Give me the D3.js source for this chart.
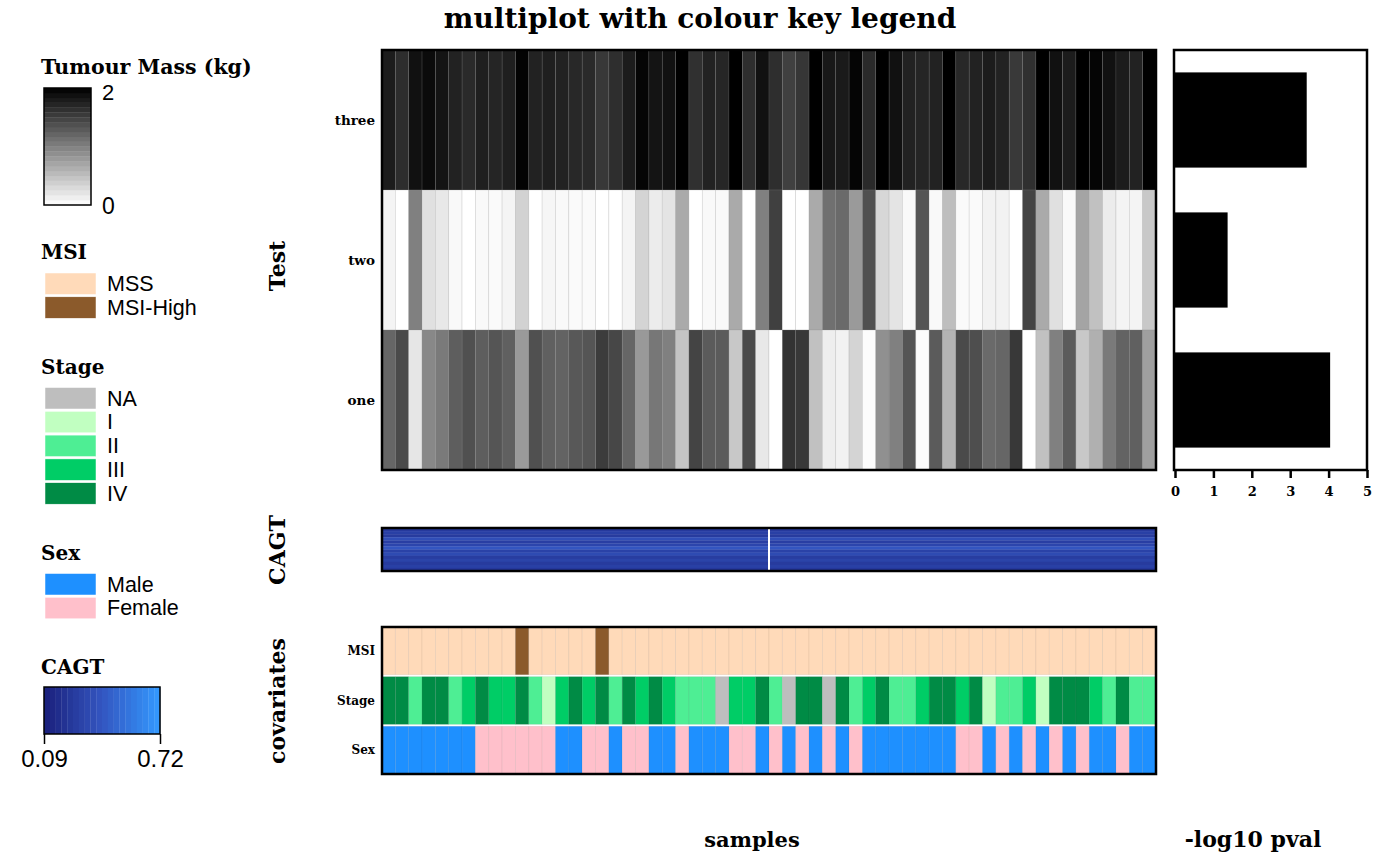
<!DOCTYPE html>
<html><head><meta charset="utf-8">
<script src="https://cdn.jsdelivr.net/npm/d3@7"></script>
<style>
body{margin:0;background:#fff;}
svg{display:block;}
.ser{font-family:"DejaVu Serif",serif;font-weight:bold;}
.sans{font-family:"Liberation Sans",Arial,sans-serif;}
</style></head>
<body>
<svg id="chart" width="1400" height="866"></svg>
<script>
// ---------------- DATA ----------------
const testRows = ["three", "two", "one"];
const massThree = [1.78,1.65,1.87,1.91,1.84,1.73,1.67,1.76,1.71,1.76,1.98,1.73,1.76,1.73,1.69,1.67,1.56,1.64,1.78,1.96,
  1.84,1.87,2.00,1.62,1.73,1.70,2.00,1.64,1.87,1.64,1.50,1.58,2.00,1.81,1.80,1.96,1.67,2.00,1.87,1.73,
  1.71,1.73,2.00,1.69,1.73,1.78,1.73,1.55,1.62,2.00,1.87,1.78,2.00,1.96,1.87,1.78,1.73,2.00];
const massTwo = [0.09,0.00,1.00,0.24,0.18,0.05,0.00,0.05,0.04,0.09,0.35,0.00,0.07,0.05,0.04,0.04,0.00,0.00,0.09,0.34,
  0.15,0.21,0.67,0.00,0.05,0.05,0.67,0.00,1.00,1.50,0.00,0.00,0.67,1.12,1.17,0.79,1.37,0.31,0.21,0.05,
  1.33,0.05,0.51,0.04,0.04,0.10,0.10,0.00,1.47,0.67,0.24,0.05,0.71,0.49,0.15,0.09,0.09,0.43];
const massOne = [1.20,1.42,0.20,0.93,1.04,1.26,1.37,1.26,1.33,1.25,0.79,1.37,1.25,1.22,1.31,1.33,1.53,1.44,1.20,0.80,
  1.07,1.00,0.46,1.47,1.29,1.29,0.43,1.42,0.18,0.00,1.60,1.56,0.49,0.13,0.10,0.34,0.02,0.87,1.00,1.33,
  0.02,1.29,0.59,1.42,1.39,1.17,1.20,1.56,0.00,0.49,1.00,1.29,0.43,0.62,1.04,1.22,1.25,0.75];
const pvalNegLog10 = [3.43, 1.37, 4.04]; // three, two, one
const pvalTicks = [0, 1, 2, 3, 4, 5];

const msiLevels = ["MSS", "MSI-High"];
const msiColors = ["#ffdab9", "#8b5a2b"];
const msi = ["MSS","MSS","MSS","MSS","MSS","MSS","MSS","MSS","MSS","MSS","MSI-High","MSS","MSS","MSS","MSS","MSS","MSI-High","MSS","MSS","MSS",
  "MSS","MSS","MSS","MSS","MSS","MSS","MSS","MSS","MSS","MSS","MSS","MSS","MSS","MSS","MSS","MSS","MSS","MSS","MSS","MSS",
  "MSS","MSS","MSS","MSS","MSS","MSS","MSS","MSS","MSS","MSS","MSS","MSS","MSS","MSS","MSS","MSS","MSS","MSS"];

const stageLevels = ["NA", "I", "II", "III", "IV"];
const stageColors = ["#bebebe", "#c1ffc1", "#4eee94", "#00cd66", "#008b45"];
const stage = ["IV","IV","II","IV","IV","II","III","IV","III","III","IV","II","I","III","IV","III","IV","II","IV","III",
  "IV","III","II","II","II","NA","III","III","IV","II","NA","IV","IV","NA","IV","II","III","IV","II","II",
  "III","IV","IV","III","IV","I","II","II","III","I","IV","IV","IV","III","II","IV","II","II"];

const sexLevels = ["Male", "Female"];
const sexColors = ["#1e90ff", "#ffc0cb"];
const sex = ["Male","Male","Male","Male","Male","Male","Male","Female","Female","Female","Female","Female","Female","Male","Male","Female","Female","Male","Female","Female",
  "Male","Male","Female","Male","Male","Male","Female","Female","Male","Female","Male","Female","Male","Female","Male","Female","Male","Male","Male","Male",
  "Male","Male","Male","Female","Female","Male","Female","Male","Female","Male","Female","Male","Female","Male","Male","Female","Male","Male"];

const covariateRows = ["MSI", "Stage", "Sex"];
const cagtRange = [0.09, 0.72];
const cagtStripes = [0.24,0.28,0.25,0.36,0.27,0.31,0.40,0.29,0.34,0.26,0.30,0.25,0.28,0.23];
const cagtMissingAfter = 29; // sample boundary with missing CAGT
const massRange = [0, 2];

const samples = massOne.map((d, i) => i);

// ---------------- DRAW ----------------
const svg = d3.select("#chart");

const x = d3.scaleBand().domain(samples).range([382, 1156]);
const massColor = d3.scaleLinear().domain(massRange).range(["#ffffff", "#000000"]);
const cagtColor = d3.scaleLinear().domain([0.09, 0.40, 0.72]).range(["#1a1f7a", "#3355c0", "#3399ff"]);
const msiScale = d3.scaleOrdinal(msiLevels, msiColors);
const stageScale = d3.scaleOrdinal(stageLevels, stageColors);
const sexScale = d3.scaleOrdinal(sexLevels, sexColors);

// title
svg.append("text").attr("class", "ser").attr("x", 700).attr("y", 28)
  .attr("text-anchor", "middle").attr("font-size", 28).text("multiplot with colour key legend");

// main heatmap
const yHeat = d3.scaleBand().domain(testRows).range([50, 470]);
const massByRow = { three: massThree, two: massTwo, one: massOne };
const heatG = svg.append("g");
testRows.forEach(r => {
  heatG.selectAll(null).data(massByRow[r]).enter().append("rect")
    .attr("x", (d, i) => x(i)).attr("y", yHeat(r))
    .attr("width", x.bandwidth()).attr("height", yHeat.bandwidth())
    .attr("fill", d => massColor(d))
    .attr("stroke", "#888").attr("stroke-opacity", 0.3).attr("stroke-width", 0.6);
});
svg.append("rect").attr("x", 382).attr("y", 50).attr("width", 774).attr("height", 420)
  .attr("fill", "none").attr("stroke", "#000").attr("stroke-width", 2.5);
testRows.forEach(r => {
  svg.append("text").attr("class", "ser").attr("x", 375).attr("y", yHeat(r) + yHeat.bandwidth() / 2 + 5)
    .attr("text-anchor", "end").attr("font-size", 13.5).text(r);
});

// rotated labels
function vlabel(txt, cy) {
  svg.append("text").attr("class", "ser").attr("transform", `translate(285,${cy}) rotate(-90)`)
    .attr("text-anchor", "middle").attr("font-size", 22).text(txt);
}
vlabel("Test", 266);
vlabel("CAGT", 550);
vlabel("covariates", 701);

// bar panel
const xb = d3.scaleLinear().domain([0, 5]).range([1175, 1367]);
const yb = d3.scaleBand().domain(testRows).range([50, 470]).paddingInner(0.32).paddingOuter(0.16);
svg.selectAll(".bar").data(testRows).enter().append("rect")
  .attr("x", xb(0)).attr("y", d => yb(d))
  .attr("width", (d, i) => xb(pvalNegLog10[i]) - xb(0)).attr("height", yb.bandwidth())
  .attr("fill", "#000");
svg.append("rect").attr("x", 1174).attr("y", 50).attr("width", 193).attr("height", 420)
  .attr("fill", "none").attr("stroke", "#000").attr("stroke-width", 2.5);
const bAxis = svg.append("g").attr("transform", "translate(0,470)")
  .call(d3.axisBottom(xb).tickValues(pvalTicks).tickSize(8).tickPadding(9).tickFormat(d3.format("d")));
bAxis.select(".domain").remove();
bAxis.selectAll("line").attr("stroke-width", 2.5);
bAxis.selectAll("text").attr("class", "ser").attr("font-size", 13).attr("fill", "#000");

// CAGT strip
const yc = d3.scaleBand().domain(d3.range(cagtStripes.length)).range([528, 571]);
svg.selectAll(".cagt").data(cagtStripes).enter().append("rect")
  .attr("x", 382).attr("y", (d, i) => yc(i)).attr("width", 774).attr("height", yc.bandwidth() + 0.3)
  .attr("fill", d => cagtColor(d));
svg.append("line").attr("x1", x(cagtMissingAfter)).attr("x2", x(cagtMissingAfter))
  .attr("y1", 529).attr("y2", 570).attr("stroke", "#fff").attr("stroke-width", 2);
svg.append("rect").attr("x", 382).attr("y", 528).attr("width", 774).attr("height", 43)
  .attr("fill", "none").attr("stroke", "#000").attr("stroke-width", 2.5);

// covariates
const ycov = d3.scaleBand().domain(covariateRows).range([627, 774]).paddingInner(0.04);
const covData = { MSI: [msi, msiScale], Stage: [stage, stageScale], Sex: [sex, sexScale] };
covariateRows.forEach(r => {
  const [vals, sc] = covData[r];
  svg.selectAll(null).data(vals).enter().append("rect")
    .attr("x", (d, i) => x(i)).attr("y", ycov(r))
    .attr("width", x.bandwidth()).attr("height", ycov.bandwidth())
    .attr("fill", d => sc(d))
    .attr("stroke", "#000").attr("stroke-opacity", 0.07).attr("stroke-width", 0.8);
  svg.append("text").attr("class", "ser").attr("x", 375).attr("y", ycov(r) + ycov.bandwidth() / 2 + 4)
    .attr("text-anchor", "end").attr("font-size", 12).text(r);
});
svg.append("rect").attr("x", 382).attr("y", 627).attr("width", 774).attr("height", 147)
  .attr("fill", "none").attr("stroke", "#000").attr("stroke-width", 2.5);

// bottom labels
svg.append("text").attr("class", "ser").attr("x", 752).attr("y", 847).attr("text-anchor", "middle")
  .attr("font-size", 21).text("samples");
svg.append("text").attr("class", "ser").attr("x", 1253).attr("y", 847).attr("text-anchor", "middle")
  .attr("font-size", 22).text("-log10 pval");

// ---------- legends ----------
const lg = svg.append("g");
// Tumour mass colour key
lg.append("text").attr("class", "ser").attr("x", 41).attr("y", 74).attr("font-size", 20.5).text("Tumour Mass (kg)");
const nSteps = 24;
const ym = d3.scaleLinear().domain(massRange).range([205, 88]);
const massSteps = d3.range(nSteps).map(i => massRange[0] + (i + 0.5) * (massRange[1] - massRange[0]) / nSteps);
lg.selectAll(".ms").data(massSteps).enter().append("rect")
  .attr("x", 44).attr("width", 47)
  .attr("y", d => ym(d + (massRange[1] - massRange[0]) / nSteps / 2))
  .attr("height", (ym(0) - ym(2)) / nSteps + 0.3)
  .attr("fill", d => massColor(d));
lg.append("rect").attr("x", 44).attr("y", 88).attr("width", 47).attr("height", 117)
  .attr("fill", "none").attr("stroke", "#000").attr("stroke-width", 1.5);
lg.append("text").attr("class", "sans").attr("x", 102).attr("y", ym(2) + 12).attr("font-size", 22).text(massRange[1]);
lg.append("text").attr("class", "sans").attr("x", 102).attr("y", ym(0) + 9).attr("font-size", 23).text(massRange[0]);

function catLegend(title, levels, colors, ty, by) {
  lg.append("text").attr("class", "ser").attr("x", 41).attr("y", ty).attr("font-size", 20).text(title);
  const step = 23.8;
  levels.forEach((l, i) => {
    lg.append("rect").attr("x", 45).attr("y", by + i * step).attr("width", 51).attr("height", 21.5)
      .attr("fill", colors[i]).attr("stroke", "#fff").attr("stroke-width", 0.5);
    lg.append("text").attr("class", "sans").attr("x", 107).attr("y", by + i * step + 18)
      .attr("font-size", 21.5).text(l);
  });
}
catLegend("MSI", msiLevels, msiColors, 259, 273);
catLegend("Stage", stageLevels, stageColors, 374, 387.5);
catLegend("Sex", sexLevels, sexColors, 560, 573.5);

// CAGT colour key
lg.append("text").attr("class", "ser").attr("x", 41).attr("y", 674).attr("font-size", 20).text("CAGT");
const xcg = d3.scaleLinear().domain(cagtRange).range([44, 160]);
const cSteps = 20;
const cVals = d3.range(cSteps).map(i => cagtRange[0] + (i + 0.5) * (cagtRange[1] - cagtRange[0]) / cSteps);
const cw = (xcg(cagtRange[1]) - xcg(cagtRange[0])) / cSteps;
lg.selectAll(".cg").data(cVals).enter().append("rect")
  .attr("x", d => xcg(d) - cw / 2).attr("y", 687).attr("width", cw + 0.3).attr("height", 47)
  .attr("fill", d => cagtColor(d));
lg.append("rect").attr("x", 44).attr("y", 687).attr("width", 116).attr("height", 47)
  .attr("fill", "none").attr("stroke", "#000").attr("stroke-width", 1.5);
const cAx = lg.append("g").attr("transform", "translate(0,734)")
  .call(d3.axisBottom(xcg).tickValues(cagtRange).tickSize(10).tickPadding(6).tickFormat(d3.format(".2f")));
cAx.select(".domain").remove();
cAx.selectAll("line").attr("stroke-width", 1.5);
cAx.selectAll("text").attr("class", "sans").attr("font-size", 24).attr("fill", "#000");
</script>
</body></html>
